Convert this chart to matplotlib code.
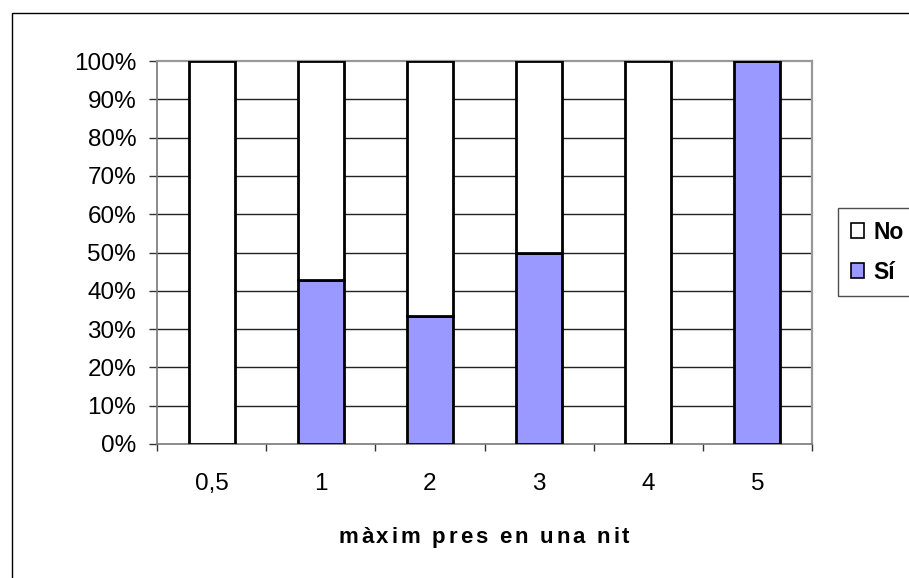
import matplotlib
matplotlib.use("Agg")
import matplotlib.pyplot as plt
from matplotlib.patches import Rectangle
from matplotlib import font_manager
from matplotlib.font_manager import FontProperties
from matplotlib.ft2font import FT2Font
import numpy as np

categories = ["0,5", "1", "2", "3", "4", "5"]
si_pct = [0.0, 42.9, 33.3, 50.0, 0.0, 100.0]
no_pct = [100.0 - v for v in si_pct]
series_labels = ["No", "Sí"]
xlabel = "màxim pres en una nit"

plt.rcParams["font.family"] = ["Liberation Sans", "DejaVu Sans"]

W, H = 909, 578
DPI = 100
fig = plt.figure(figsize=(W / DPI, H / DPI), dpi=DPI)
fig.patch.set_facecolor("white")

# outer chart frame
fig.patches.append(Rectangle((12 / W, -20 / H), 1.2, (578 - 13 + 20) / H,
                             transform=fig.transFigure, fill=False,
                             edgecolor="black", linewidth=1.0, zorder=0))

ax = fig.add_axes([157 / W, 134 / H, 655 / W, 383 / H])
x = np.arange(len(categories))
bw = 0.42
edge = dict(edgecolor="black", linewidth=2.0, zorder=3)
ax.bar(x, si_pct, bw, color="#9999FF", label=series_labels[1], **edge)
ax.bar(x, no_pct, bw, bottom=si_pct, color="white", label=series_labels[0], **edge)

ax.set_xlim(-0.5, len(categories) - 0.5)
ax.set_ylim(0, 100)
ax.set_yticks(np.arange(0, 101, 10))
ax.set_yticklabels([f"{v}%" for v in range(0, 101, 10)])
ax.set_xticks(x)
ax.set_xticklabels(categories)
ax.set_xticks(np.arange(-0.5, len(categories), 1), minor=True)
ax.tick_params(axis="x", which="major", length=0, pad=21, labelsize=17.5)
ax.tick_params(axis="x", which="minor", length=5, width=1, color="#333333", direction="out")
ax.tick_params(axis="y", length=6, width=1, color="#333333", labelsize=17.5, pad=9)

for v in range(10, 100, 10):
    ax.axhline(v, color="#222222", linewidth=1.0, zorder=1)

for side in ["top", "right"]:
    ax.spines[side].set_color("#999999")
    ax.spines[side].set_linewidth(1.6)
for side in ["left", "bottom"]:
    ax.spines[side].set_color("#777777")
    ax.spines[side].set_linewidth(1.2)

# axis title, drawn with slightly widened letter spacing
title_size = 16
fp = FontProperties(family="Liberation Sans", weight="bold")
ft = FT2Font(font_manager.findfont(fp))
ft.set_size(title_size, DPI)
advances = []
for ch in xlabel:
    g = ft.load_char(ord(ch))
    advances.append(g.linearHoriAdvance / 65536)
target_width = 291
spacing = (target_width - sum(advances)) / (len(xlabel) - 1)
cx = 484
pos = cx - target_width / 2
for ch, adv in zip(xlabel, advances):
    if ch != " ":
        fig.text(pos / W, 1 - 543 / H, ch, family="Liberation Sans",
                 fontweight="bold", fontsize=title_size,
                 ha="left", va="baseline")
    pos += adv + spacing

handles, labels = ax.get_legend_handles_labels()
leg = fig.legend(handles[::-1], labels[::-1], loc="upper left",
                 bbox_to_anchor=(838 / W, 1 - 208 / H),
                 frameon=True, fancybox=False, edgecolor="#222222",
                 prop={"weight": "bold", "size": 16.5},
                 handlelength=0.6, handleheight=0.6, handletextpad=0.4,
                 labelspacing=0.75, borderpad=0.55, borderaxespad=0)
leg.get_frame().set_linewidth(1.0)
for h in leg.legend_handles:
    h.set_linewidth(1.2)

fig.savefig("out.png", dpi=DPI, facecolor="white")
